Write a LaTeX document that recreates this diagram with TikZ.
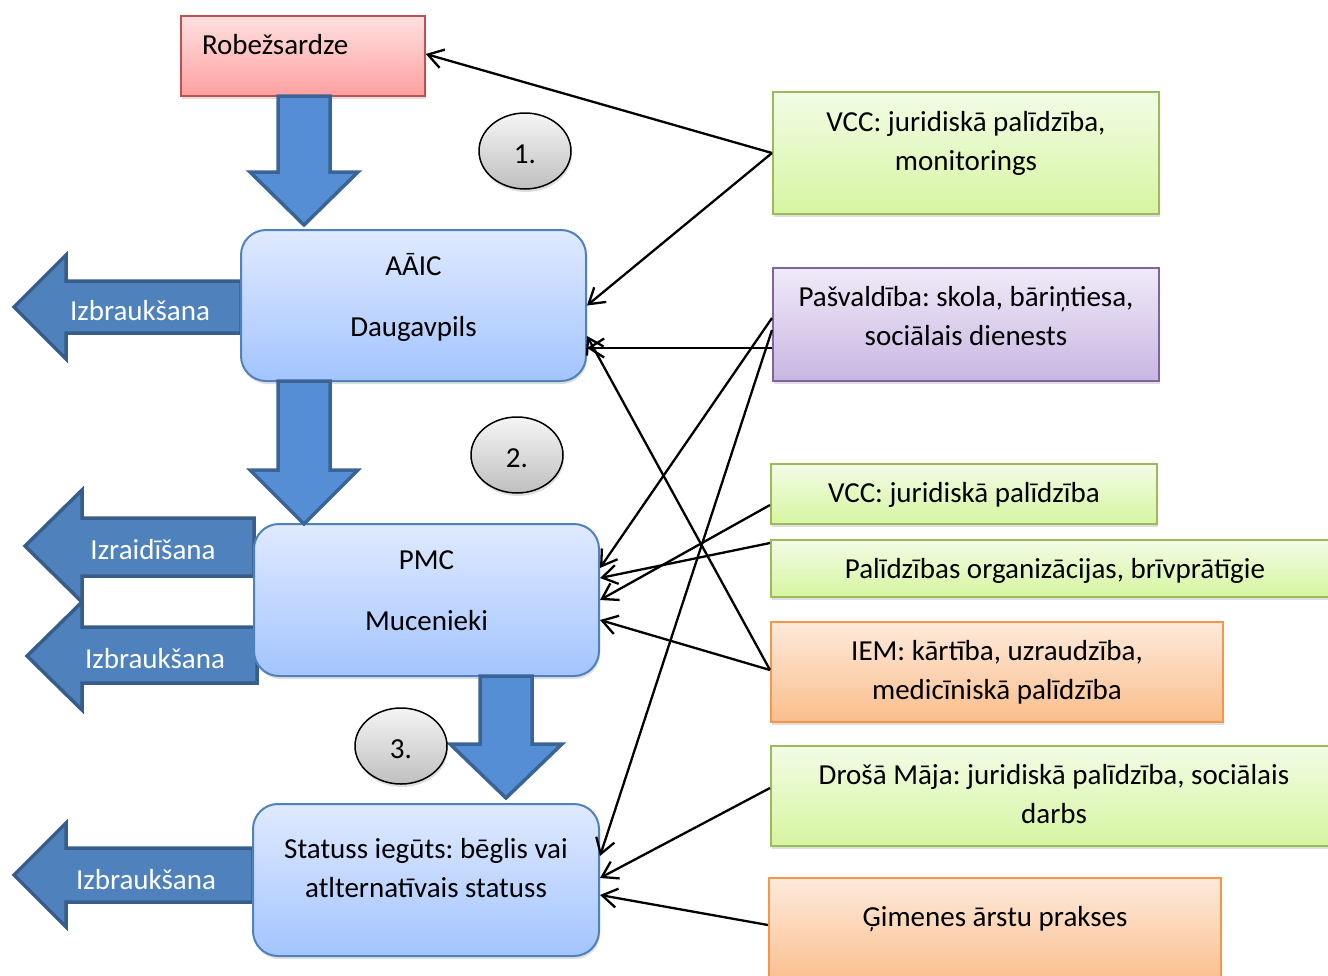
\documentclass[tikz,border=0pt]{standalone}
\usepackage{fontspec}
\setmainfont{Carlito}
\frenchspacing
\usetikzlibrary{shapes.geometric,shadows,arrows.meta}
\definecolor{bluetop}{RGB}{224,234,255}
\definecolor{bluebot}{RGB}{163,196,255}
\definecolor{blueline}{RGB}{79,129,189}
\definecolor{redtop}{RGB}{255,224,224}
\definecolor{redbot}{RGB}{255,160,160}
\definecolor{redline}{RGB}{192,80,77}
\definecolor{greentop}{RGB}{242,252,230}
\definecolor{greenbot}{RGB}{214,245,160}
\definecolor{greenline}{RGB}{155,187,89}
\definecolor{purpletop}{RGB}{240,234,248}
\definecolor{purplebot}{RGB}{200,182,226}
\definecolor{purpleline}{RGB}{128,100,162}
\definecolor{orangetop}{RGB}{253,234,220}
\definecolor{orangebot}{RGB}{250,190,140}
\definecolor{orangeline}{RGB}{247,150,70}
\definecolor{downfill}{RGB}{85,142,213}
\definecolor{downline}{RGB}{59,100,150}
\definecolor{leftfill}{RGB}{79,129,189}
\definecolor{leftline}{RGB}{56,93,138}

\begin{document}
\begin{tikzpicture}[x=1pt, y=-1pt,
    font=\fontsize{29}{39}\selectfont,
    every node/.style={inner sep=0pt},
    shade/.style={drop shadow={shadow xshift=1pt, shadow yshift=-3pt, opacity=0.25}},
    bluebox/.style={draw=blueline, line width=2pt, rounded corners=25pt, top color=bluetop, bottom color=bluebot, shade, align=center},
    redbox/.style={draw=redline, line width=1.5pt, top color=redtop, bottom color=redbot, shade},
    greenbox/.style={draw=greenline, line width=2pt, top color=greentop, bottom color=greenbot, shade, align=center},
    purplebox/.style={draw=purpleline, line width=2pt, top color=purpletop, bottom color=purplebot, shade, align=center},
    orangebox/.style={draw=orangeline, line width=2pt, top color=orangetop, bottom color=orangebot, shade, align=center},
    lift/.style={text height=0pt, text depth=#1},
    sink/.style={text height=#1, text depth=0pt},
    stepcircle/.style={ellipse, draw, line width=1.5pt, minimum width=92pt, minimum height=76pt, top color=gray!8, bottom color=gray!50, shade, text height=24pt, text depth=0pt},
    downarrow/.style={draw=downline, line width=3.5pt, fill=downfill},
    leftarrow/.style={draw=leftline, line width=3.5pt, fill=leftfill},
    arrowlabel/.style={anchor=base, text=white},
    link/.style={-{Straight Barb[length=15pt,width=19pt]}, line width=2.3pt}]

\useasboundingbox (0,0) rectangle (1328,975);
\clip (0,0) rectangle (1328,975);

% exits to the left
\foreach \r/\sa/\sb/\b/\ha/\hb/\t in {241/281/333/66/255/359/14, 254/518/576/82/490/602/25, 257/627/683/82/602/710/27, 253/848/902/66/823/927/14} {
    \pgfmathsetmacro{\tipy}{(\ha+\hb)/2}
    \draw[leftarrow] (\r,\sa) -- (\b,\sa) -- (\b,\ha) -- (\t,\tipy) -- (\b,\hb) -- (\b,\sb) -- (\r,\sb) -- cycle;
}
\node[arrowlabel] (exit1) at (140,320) {Izbraukšana};
\node[arrowlabel] (expel) at (153,559) {Izraidīšana};
\node[arrowlabel] (exit2) at (155,668) {Izbraukšana};
\node[arrowlabel] (exit3) at (146,889) {Izbraukšana};

% stages
\node[redbox, minimum height=80pt, text width=202pt, inner xsep=21pt, align=left, lift=4pt] (border) at (303,56) {Robežsardze};
\node[bluebox, minimum width=345pt, minimum height=151pt, sink=61pt] (aaic) at (413.5,305.5) {AĀIC\\[22pt]Daugavpils};
\node[bluebox, minimum width=345pt, minimum height=152pt, sink=60pt] (pmc) at (426.5,600) {PMC\\[22pt]Mucenieki};
\node[bluebox, minimum width=346pt, minimum height=152pt, sink=34pt] (status) at (426,880) {Statuss iegūts: bēglis vai\\atlternatīvais statuss};

% flow between stages
\foreach \xl/\xr/\ya/\yb/\hl/\hr/\yt in {278/330/96/172/250/358/225, 278/330/381/470/250/358/524, 480/532/676/744/450/562/798} {
    \pgfmathsetmacro{\tipx}{(\hl+\hr)/2}
    \draw[downarrow] (\xl,\ya) -- (\xr,\ya) -- (\xr,\yb) -- (\hr,\yb) -- (\tipx,\yt) -- (\hl,\yb) -- (\xl,\yb) -- cycle;
}
\node[stepcircle] (step1) at (525,151) {1.};
\node[stepcircle] (step2) at (517,455) {2.};
\node[stepcircle] (step3) at (401,746) {3.};

% support
\node[greenbox, minimum width=386pt, minimum height=122pt, sink=34pt] (vcc1) at (966,153) {VCC: juridiskā palīdzība,\\monitorings};
\node[purplebox, minimum width=386pt, minimum height=113pt, sink=41pt] (muni) at (966,324.5) {Pašvaldība: skola, bāriņtiesa,\\sociālais dienests};
\node[greenbox, minimum width=386pt, minimum height=60pt, sink=16pt] (vcc2) at (964,494) {VCC: juridiskā palīdzība};
\node[greenbox, minimum width=568pt, minimum height=57pt, sink=19pt] (ngo) at (1055,568.5) {Palīdzības organizācijas, brīvprātīgie};
\node[orangebox, minimum width=452pt, minimum height=100pt, sink=54pt] (iem) at (997,672) {IEM: kārtība, uzraudzība,\\medicīniskā palīdzība};
\node[greenbox, minimum width=566pt, minimum height=100pt, sink=54pt] (safe) at (1054,796) {Drošā Māja: juridiskā palīdzība, sociālais\\darbs};
\node[orangebox, minimum width=452pt, minimum height=107pt, lift=11pt] (gp) at (995,931.5) {Ģimenes ārstu prakses};

% who helps where
\draw[link] (vcc1.west) -- ([yshift=2pt]border.east);
\draw[link] (vcc1.west) -- (aaic.east);
\draw[link] ([yshift=-23.5pt]muni.west) -- ([yshift=-42.5pt]aaic.east);
\draw[link] ([yshift=6.5pt]muni.west) -- ([yshift=32pt]pmc.east);
\draw[link] ([yshift=-5.5pt]muni.west) -- ([yshift=24pt]status.east);
\draw[link] ([yshift=-11pt]vcc2.west) -- (pmc.east);
\draw[link] ([yshift=25.5pt]ngo.west) -- ([yshift=22pt]pmc.east);
\draw[link] ([yshift=2pt]iem.west) -- ([yshift=-30.5pt]aaic.east);
\draw[link] ([yshift=2pt]iem.west) -- ([yshift=-20pt]pmc.east);
\draw[link] ([yshift=8pt]safe.west) -- ([yshift=2pt]status.east);
\draw[link] ([yshift=6.5pt]gp.west) -- ([yshift=-15pt]status.east);
\end{tikzpicture}
\end{document}
